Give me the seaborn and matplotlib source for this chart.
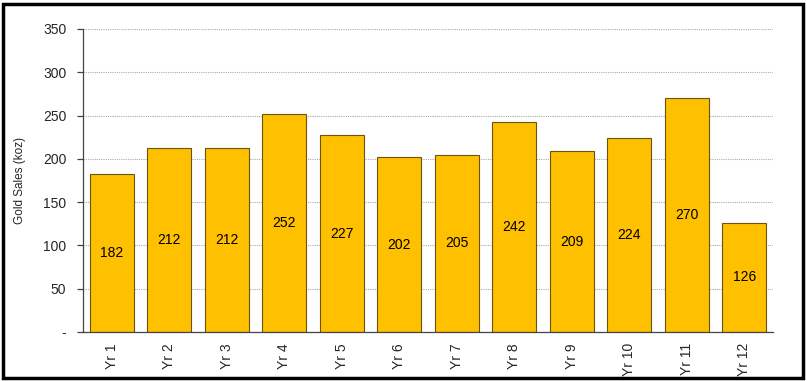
import matplotlib
matplotlib.use("Agg")
import matplotlib.pyplot as plt
import seaborn as sns
import numpy as np
import pandas as pd
from matplotlib.patches import Rectangle

years = ["Yr 1", "Yr 2", "Yr 3", "Yr 4", "Yr 5", "Yr 6", "Yr 7", "Yr 8", "Yr 9", "Yr 10", "Yr 11", "Yr 12"]
sales = [182, 212, 212, 252, 227, 202, 205, 242, 209, 224, 270, 126]
yticks = [0, 50, 100, 150, 200, 250, 300, 350]
ytick_labels = ["-", "50", "100", "150", "200", "250", "300", "350"]

sns.set_style("white")
plt.rcParams['font.family'] = ['Liberation Sans', 'DejaVu Sans']

df = pd.DataFrame({"year": years, "sales": sales})

fig = plt.figure(figsize=(8.07, 3.81), dpi=100)
ax = fig.add_axes([83/807, 1-332/381, (773-83)/807, (332-29)/381])

sns.barplot(data=df, x="year", y="sales", ax=ax, color="#FFC000",
            edgecolor="#6B5410", linewidth=0.8, width=0.77, saturation=1)

ax.set_ylim(0, 350)
ax.set_xlim(-0.5, len(years) - 0.5)
ax.set_yticks(yticks)
ax.set_yticklabels(ytick_labels, fontsize=10)
ax.yaxis.grid(True, linestyle=(0, (1, 1)), color="#aaaaaa", linewidth=0.8)
ax.set_axisbelow(True)

ax.set_xticks(range(len(years)))
ax.set_xticklabels(years, rotation=90, fontsize=10)
ax.tick_params(axis="x", which="major", length=0, pad=8)
ax.set_xticks(np.arange(-0.5, len(years)), minor=True)
ax.tick_params(axis="x", which="minor", direction="inout", length=8, width=0.9, color="#444444")
ax.tick_params(axis="y", which="major", direction="out", length=4, width=0.9, color="#444444", left=True, pad=8)

for s in ["top", "right"]:
    ax.spines[s].set_visible(False)
for s in ["left", "bottom"]:
    ax.spines[s].set_color("#444444")
    ax.spines[s].set_linewidth(0.9)

ax.set_xlabel("")
ax.set_ylabel("Gold Sales (koz)", fontsize=8.5, labelpad=12)

for i, v in enumerate(sales):
    ax.text(i, v / 2, str(v), ha="center", va="center", fontsize=10, color="black")

fig.add_artist(Rectangle((3/807, 3/381), 800/807, 374/381, transform=fig.transFigure,
                         fill=False, edgecolor="black", linewidth=2.5))

fig.savefig("out.png", dpi=100)
